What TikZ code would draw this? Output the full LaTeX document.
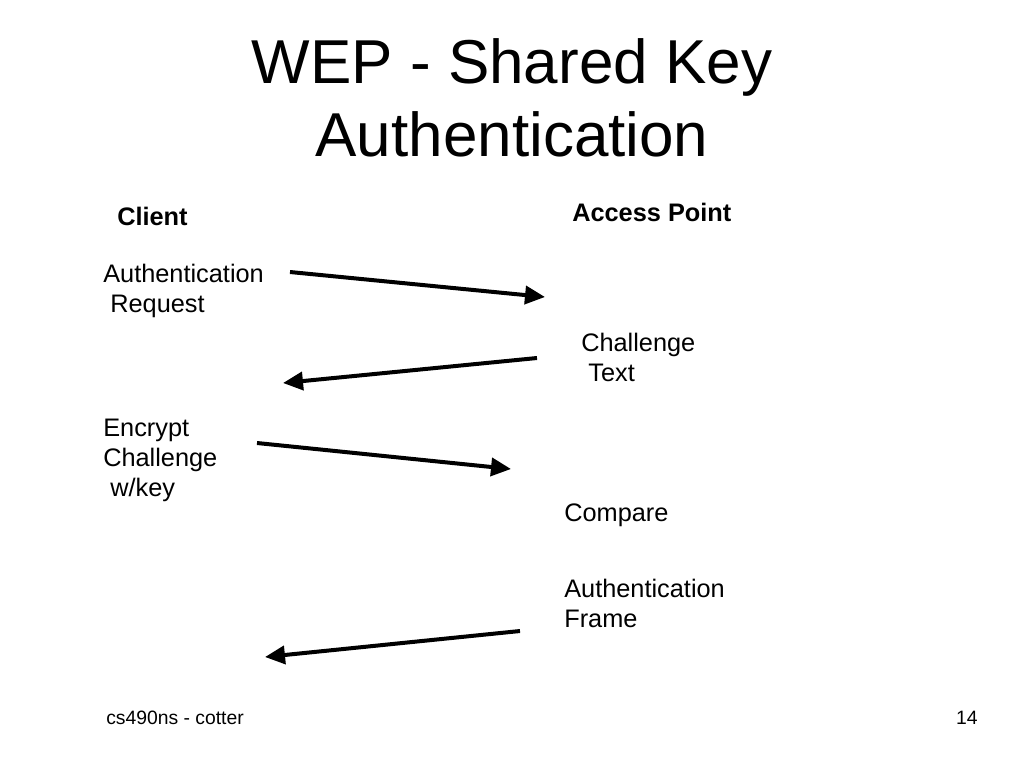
\documentclass[tikz,border=0pt]{standalone}
\usepackage{fontspec}
\setmainfont{Liberation Sans}
\usetikzlibrary{arrows.meta}
\begin{document}
\begin{tikzpicture}[x=0.75pt,y=-0.75pt,
  title/.style={font=\fontsize{46.5}{55}\selectfont, inner sep=0pt, anchor=base},
  body/.style={font=\fontsize{19}{22.5}\selectfont, inner sep=0pt, anchor=base west},
  head/.style={font=\fontsize{19}{22.5}\selectfont\bfseries, inner sep=0pt, anchor=base west},
  foot/.style={font=\fontsize{14.5}{17}\selectfont, inner sep=0pt},
  msg/.style={line width=3pt, -{Triangle[length=15pt,width=13.5pt]}}]
\useasboundingbox (0,0) rectangle (1024,768);
\fill[white] (0,0) rectangle (1024,768);
% title
\node[title] (t1) at (512,83) {WEP - Shared Key};
\node[title] (t2) at (512,156) {Authentication};
% headings
\node[head] (client) at (117,225) {Client};
\node[head] (ap) at (572,221) {Access Point};
% client texts
\node[body] (auth1) at (103,282) {Authentication};
\node[body] (auth2) at (103,312) {\ Request};
\node[body] (enc1) at (103,436) {Encrypt};
\node[body] (enc2) at (103,466) {Challenge};
\node[body] (enc3) at (103,496) {\ w/key};
% AP texts
\node[body] (ch1) at (581,351) {Challenge};
\node[body] (ch2) at (581,381) {\ Text};
\node[body] (cmp) at (564,521) {Compare};
\node[body] (af1) at (564,597) {Authentication};
\node[body] (af2) at (564,627) {Frame};
% arrow end points
\coordinate (a1s) at (290,272);
\coordinate (a1e) at (545,297);
\coordinate (a2s) at (537,358);
\coordinate (a2e) at (283,383);
\coordinate (a3s) at (257,443);
\coordinate (a3e) at (511,469);
\coordinate (a4s) at (520,631);
\coordinate (a4e) at (265,657);
\draw[msg] (a1s) -- (a1e);
\draw[msg] (a2s) -- (a2e);
\draw[msg] (a3s) -- (a3e);
\draw[msg] (a4s) -- (a4e);
% footer
\node[foot, anchor=base west] (f1) at (106,724) {cs490ns - cotter};
\node[foot, anchor=base east] (f2) at (978,724) {14};
\end{tikzpicture}
\end{document}
